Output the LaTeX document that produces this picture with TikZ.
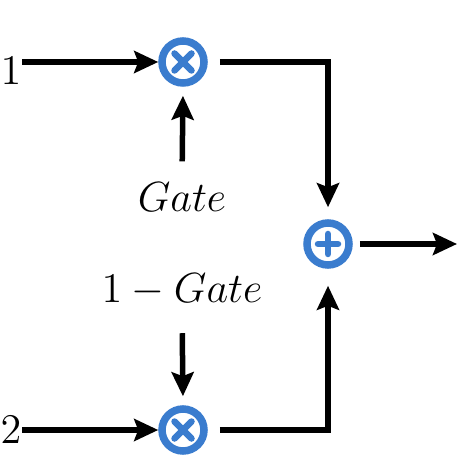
\documentclass[tikz,border=0pt]{standalone}
\usetikzlibrary{arrows.meta}

\definecolor{opblue}{RGB}{58,124,206}

\tikzset{
  flow/.style={line width=0.055cm, -{Stealth[length=0.24cm, width=0.22cm, inset=0.04cm]}},
  opring/.style={circle, draw=opblue, line width=0.075cm, minimum size=0.42cm, inner sep=0pt},
  arm/.style={opblue, line width=0.065cm, line cap=round},
  lbl/.style={inner sep=0pt, font=\fontsize{12}{14}\selectfont}
}

\begin{document}
\begin{tikzpicture}[x=0.01cm, y=-0.01cm, line join=miter]

% ----------------- Frame (picture is 474 x 474, y downwards) -----------------
\useasboundingbox (0,0) rectangle (474,474);

% ----------------- Operators -----------------
\node[opring] (mult1) at (183,62)  {};
\node[opring] (mult2) at (183,430) {};
\node[opring] (sum)   at (328,244) {};

% cross in the two products
\foreach \m in {mult1,mult2}
  \draw[arm] ([shift={(-8.5,-8.5)}]\m.center) -- ([shift={(8.5,8.5)}]\m.center)
             ([shift={(-8.5,8.5)}]\m.center) -- ([shift={(8.5,-8.5)}]\m.center);

% plus in the sum
\draw[arm] ([shift={(-10,0)}]sum.center) -- ([shift={(10,0)}]sum.center)
           ([shift={(0,-10)}]sum.center) -- ([shift={(0,10)}]sum.center);

% ----------------- Texts -----------------
\node[lbl, anchor=base] (gate)  at (182,212) {$Gate$};
\node[lbl, anchor=base] (ngate) at (182,303) {$1-Gate$};
\node[lbl, anchor=base, font=\fontsize{12.5}{14}\selectfont] (idx1) at (11,85)  {$1$};
\node[lbl, anchor=base, font=\fontsize{12.5}{14}\selectfont] (idx2) at (11,443) {$2$};

% free ends
\coordinate (in1) at (22,62);
\coordinate (in2) at (22,430);
\coordinate (out) at (457,244);

% ----------------- Inputs -----------------
\draw[flow] (in1) -- (mult1.west);
\draw[flow] (in2) -- (mult2.west);

% ----------------- Gates -----------------
\draw[flow, shorten <=0.21cm, shorten >=0.09cm] (gate.north) -- (mult1.south);
\draw[flow, shorten <=0.26cm, shorten >=0.09cm] (ngate.south) -- (mult2.north);

% ----------------- Products into the sum -----------------
\draw[flow, shorten <=0.12cm, shorten >=0.12cm] (mult1.east) -| (sum.north);
\draw[flow, shorten <=0.12cm, shorten >=0.17cm] (mult2.east) -| (sum.south);

% ----------------- Output -----------------
\draw[flow, shorten <=0.07cm] (sum.east) -- (out);

\end{tikzpicture}
\end{document}
